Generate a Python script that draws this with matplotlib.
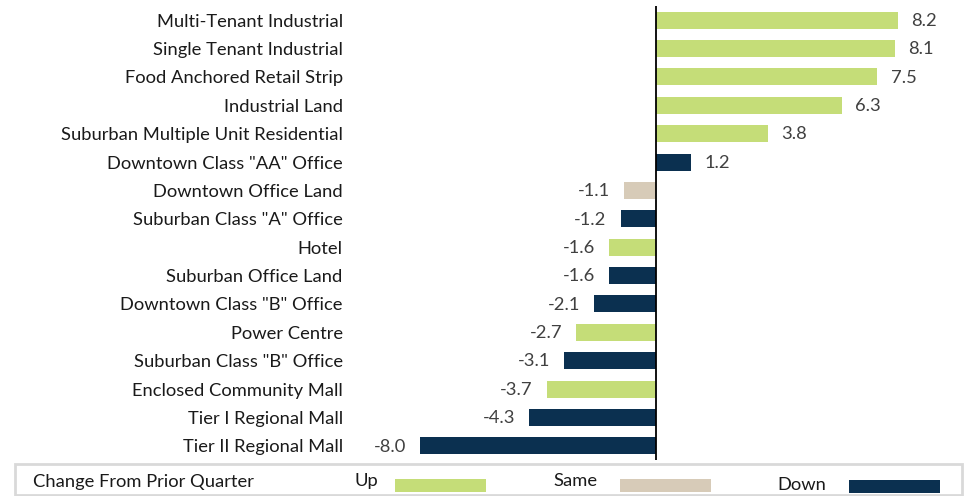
import matplotlib
matplotlib.use("Agg")
import matplotlib.pyplot as plt
from matplotlib.patches import Rectangle

plt.rcParams['font.family'] = ['Lato', 'DejaVu Sans']

categories = [
    "Multi-Tenant Industrial", "Single Tenant Industrial", "Food Anchored Retail Strip",
    "Industrial Land", "Suburban Multiple Unit Residential", 'Downtown Class "AA" Office',
    "Downtown Office Land", 'Suburban Class "A" Office', "Hotel", "Suburban Office Land",
    'Downtown Class "B" Office', "Power Centre", 'Suburban Class "B" Office',
    "Enclosed Community Mall", "Tier I Regional Mall", "Tier II Regional Mall",
]
values = [8.2, 8.1, 7.5, 6.3, 3.8, 1.2, -1.1, -1.2, -1.6, -1.6, -2.1, -2.7, -3.1, -3.7, -4.3, -8.0]
direction = ["Up", "Up", "Up", "Up", "Up", "Down", "Same", "Down", "Up", "Down",
             "Down", "Up", "Down", "Up", "Down", "Down"]
colors_map = {"Up": "#C5DD78", "Same": "#D7CBB8", "Down": "#0B3050"}
legend_labels = ["Up", "Same", "Down"]
legend_title = "Change From Prior Quarter"

FS = 13.2
W, H = 967, 496
fig = plt.figure(figsize=(W / 100, H / 100), dpi=100)
left, right, top, bottom = 349, 960, 6, 460
ax = fig.add_axes([left / W, 1 - bottom / H, (right - left) / W, (bottom - top) / H])

ypos = list(range(len(categories)))
ax.barh(ypos, values, height=0.6, color=[colors_map[d] for d in direction], zorder=2)
ax.set_xlim(-10.4, 10.3)
ax.set_ylim(len(categories) - 0.5, -0.5)
ax.axvline(0, color="black", lw=1.3, zorder=3)

for y, v in zip(ypos, values):
    if v >= 0:
        ax.annotate(f"{v:.1f}", (v, y), xytext=(9.5, -0.5), textcoords="offset points",
                    ha="left", va="center", fontsize=FS, color="#404040")
    else:
        ax.annotate(f"{v:.1f}", (v, y), xytext=(-10, -0.5), textcoords="offset points",
                    ha="right", va="center", fontsize=FS, color="#404040")

ax.set_yticks(ypos)
ax.set_yticklabels(categories, fontsize=FS, color="#1a1a1a")
ax.tick_params(axis="y", length=0, pad=4.5)
ax.set_xticks([])
for s in ax.spines.values():
    s.set_visible(False)

def fx(px):
    return px / W

def fy(py):
    return 1 - py / H

fig.patches.append(Rectangle((fx(15), fy(495)), fx(947), (495 - 464) / H, transform=fig.transFigure,
                             fill=False, edgecolor="#D9D9D9", lw=2))
fig.text(fx(33), fy(482), legend_title, fontsize=FS, color="#1a1a1a", va="center", ha="left")
leg_pos = [(355, 481, 395, 479), (553, 481, 620, 479), (777, 485, 849, 480)]
for lab, (tx, ty, px, py) in zip(legend_labels, leg_pos):
    fig.text(fx(tx), fy(ty), lab, fontsize=FS, color="#1a1a1a", va="center", ha="left")
    fig.patches.append(Rectangle((fx(px), fy(py + 13)), 91 / W, 13 / H, transform=fig.transFigure,
                                 facecolor=colors_map[lab], edgecolor="none"))

fig.savefig("out.png", dpi=100)
